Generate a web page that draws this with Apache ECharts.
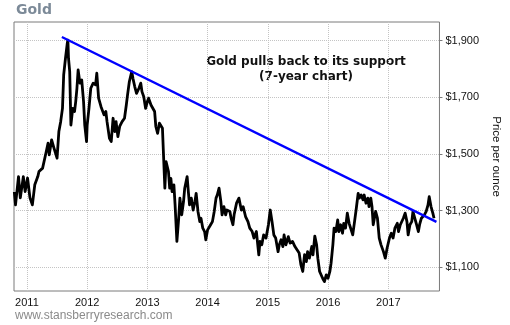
<!DOCTYPE html>
<html>
<head>
<meta charset="utf-8">
<script src="https://cdn.jsdelivr.net/npm/echarts@6/dist/echarts.min.js"></script>
<style>
  html, body { margin: 0; padding: 0; background: #ffffff; }
  #chart { width: 510px; height: 325px; }
</style>
</head>
<body>
<div id="chart"></div>
<script>
// Gold spot price, October 2010 - October 2017 (decimal year, US$ per ounce)
const years = [
  2010.79, 2010.81, 2010.86, 2010.89, 2010.94, 2010.97, 2011.01, 2011.05, 2011.09, 2011.13,
  2011.18, 2011.20, 2011.26, 2011.32, 2011.35, 2011.37, 2011.41, 2011.45, 2011.50, 2011.53,
  2011.56, 2011.59, 2011.61, 2011.64, 2011.67, 2011.68, 2011.69, 2011.71, 2011.73, 2011.76,
  2011.79, 2011.81, 2011.83, 2011.85, 2011.88, 2011.91, 2011.94, 2011.96, 2011.99, 2012.00,
  2012.03, 2012.06, 2012.10, 2012.14, 2012.16, 2012.19, 2012.23, 2012.26, 2012.28, 2012.31,
  2012.33, 2012.37, 2012.40, 2012.43, 2012.46, 2012.48, 2012.51, 2012.54, 2012.58, 2012.62,
  2012.65, 2012.67, 2012.70, 2012.74, 2012.76, 2012.79, 2012.82, 2012.86, 2012.89, 2012.91,
  2012.94, 2012.97, 2013.00, 2013.02, 2013.06, 2013.09, 2013.12, 2013.14, 2013.17, 2013.20,
  2013.22, 2013.25, 2013.27, 2013.29, 2013.31, 2013.35, 2013.37, 2013.39, 2013.41, 2013.44,
  2013.46, 2013.49, 2013.52, 2013.54, 2013.57, 2013.60, 2013.62, 2013.66, 2013.68, 2013.70,
  2013.73, 2013.76, 2013.79, 2013.81, 2013.84, 2013.87, 2013.89, 2013.92, 2013.95, 2013.97,
  2014.00, 2014.03, 2014.05, 2014.08, 2014.11, 2014.14, 2014.16, 2014.19, 2014.22, 2014.24,
  2014.27, 2014.30, 2014.32, 2014.37, 2014.39, 2014.42, 2014.44, 2014.48, 2014.52, 2014.56,
  2014.59, 2014.63, 2014.67, 2014.70, 2014.74, 2014.77, 2014.81, 2014.85, 2014.87, 2014.90,
  2014.93, 2014.97, 2015.01, 2015.04, 2015.07, 2015.10, 2015.13, 2015.17, 2015.19, 2015.22,
  2015.25, 2015.27, 2015.30, 2015.34, 2015.37, 2015.41, 2015.45, 2015.48, 2015.52, 2015.55,
  2015.58, 2015.61, 2015.64, 2015.66, 2015.69, 2015.73, 2015.75, 2015.78, 2015.81, 2015.83,
  2015.86, 2015.89, 2015.91, 2015.94, 2015.97, 2016.00, 2016.03, 2016.05, 2016.08, 2016.10,
  2016.13, 2016.16, 2016.18, 2016.21, 2016.24, 2016.26, 2016.29, 2016.32, 2016.35, 2016.38,
  2016.41, 2016.44, 2016.47, 2016.50, 2016.52, 2016.55, 2016.58, 2016.60, 2016.63, 2016.66,
  2016.68, 2016.71, 2016.73, 2016.75, 2016.79, 2016.82, 2016.85, 2016.88, 2016.92, 2016.95,
  2016.98, 2017.02, 2017.05, 2017.08, 2017.11, 2017.15, 2017.17, 2017.20, 2017.23, 2017.25,
  2017.28, 2017.31, 2017.33, 2017.36, 2017.39, 2017.41, 2017.44, 2017.47, 2017.50, 2017.52,
  2017.55, 2017.58, 2017.60, 2017.63, 2017.66, 2017.68, 2017.71, 2017.74, 2017.76
];
const prices = [
  1366, 1320, 1420, 1345, 1420, 1367, 1415, 1345, 1320, 1391,
  1420, 1438, 1450, 1508, 1538, 1497, 1550, 1520, 1485, 1579,
  1614, 1661, 1779, 1838, 1891, 1902, 1838, 1791, 1602, 1661,
  1650, 1685, 1732, 1797, 1750, 1761, 1685, 1602, 1544, 1602,
  1661, 1732, 1750, 1744, 1785, 1697, 1667, 1673, 1638, 1650,
  1614, 1555, 1544, 1626, 1579, 1614, 1561, 1597, 1614, 1626,
  1673, 1708, 1755, 1791, 1767, 1738, 1714, 1732, 1750, 1720,
  1702, 1661, 1685, 1697, 1673, 1679, 1650, 1597, 1573, 1609,
  1614, 1591, 1485, 1379, 1473, 1438, 1379, 1414, 1367, 1391,
  1320, 1191, 1273, 1344, 1285, 1332, 1379, 1420, 1367, 1320,
  1344, 1302, 1332, 1361, 1297, 1261, 1273, 1238, 1226, 1197,
  1232, 1238, 1250, 1261, 1297, 1344, 1355, 1379, 1332, 1285,
  1314, 1285, 1302, 1297, 1273, 1250, 1285, 1326, 1344, 1302,
  1314, 1279, 1261, 1238, 1226, 1203, 1226, 1144, 1191, 1179,
  1214, 1203, 1250, 1302, 1261, 1214, 1203, 1155, 1179, 1197,
  1173, 1214, 1179, 1208, 1185, 1191, 1173, 1179, 1150, 1108,
  1085, 1144, 1120, 1155, 1132, 1173, 1144, 1210, 1179, 1132,
  1085, 1079, 1061, 1049, 1073, 1061, 1085, 1114, 1179, 1238,
  1226, 1267, 1226, 1250, 1220, 1255, 1238, 1291, 1255, 1250,
  1214, 1261, 1309, 1361, 1344, 1355, 1338, 1355, 1326, 1344,
  1314, 1344, 1314, 1250, 1297, 1273, 1203, 1179, 1155, 1132,
  1167, 1203, 1220, 1203, 1238, 1255, 1226, 1250, 1250, 1273,
  1291, 1261, 1214, 1250, 1261, 1297, 1273, 1250, 1226, 1250,
  1273, 1267, 1285, 1297, 1320, 1349, 1314, 1291, 1273
];

// Resistance line drawn across the 2011 and 2012 highs
const trendYears = [2011.58, 2017.80];
const trendPrices = [1913, 1260];

// Axis tick positions and labels
const yearTicks = [2011, 2012, 2013, 2014, 2015, 2016, 2017];
const priceTicks = [1100, 1300, 1500, 1700, 1900];

const goldData = years.map((y, i) => [y, prices[i]]);
const trendData = trendYears.map((y, i) => [y, trendPrices[i]]);

const chart = echarts.init(document.getElementById('chart'), null, { renderer: 'canvas' });

const gridLine = { show: true, lineStyle: { color: '#c4c4c4', type: 'dotted', width: 1 } };

chart.setOption({
  animation: false,
  backgroundColor: '#ffffff',
  grid: {
    left: 14, right: 58, top: 22, bottom: 34,
    show: true, borderColor: '#7a7a7a', borderWidth: 1, backgroundColor: 'transparent'
  },
  xAxis: {
    type: 'value',
    min: 2010.785,
    max: 2017.85,
    axisLine: { show: false },
    axisTick: { show: false, customValues: yearTicks },
    splitLine: gridLine,
    axisLabel: {
      customValues: yearTicks,
      formatter: v => String(Math.round(v)),
      color: '#111111',
      fontFamily: 'Liberation Sans, Arial, sans-serif',
      fontSize: 11,
      margin: 6
    }
  },
  yAxis: {
    type: 'value',
    position: 'right',
    min: 1016,
    max: 1966,
    name: 'Price per ounce',
    nameLocation: 'middle',
    nameRotate: -90,
    nameGap: 50,
    nameTextStyle: { color: '#111111', fontFamily: 'Liberation Sans, Arial, sans-serif', fontSize: 11.5 },
    axisLine: { show: false },
    axisTick: { show: true, customValues: priceTicks, length: 3, lineStyle: { color: '#7a7a7a' } },
    splitLine: gridLine,
    axisLabel: {
      customValues: priceTicks,
      formatter: v => '$' + v.toLocaleString('en-US'),
      color: '#111111',
      fontFamily: 'Liberation Sans, Arial, sans-serif',
      fontSize: 11,
      margin: 6
    }
  },
  series: [
    {
      name: 'Gold',
      type: 'line',
      data: goldData,
      showSymbol: false,
      lineStyle: { color: '#000000', width: 2.8, join: 'round' },
      z: 2
    },
    {
      name: 'Trend',
      type: 'line',
      data: trendData,
      showSymbol: false,
      lineStyle: { color: '#0000ff', width: 2.4 },
      z: 3
    }
  ],
  graphic: [
    {
      type: 'text', left: 16, top: 3,
      style: { text: 'Gold', fill: '#7c8a98', font: 'bold 14px "DejaVu Sans", Verdana, sans-serif' }
    },
    {
      type: 'text', x: 306, y: 55,
      style: {
        text: 'Gold pulls back to its support\n(7-year chart)',
        fill: '#111111', align: 'center', lineHeight: 14.5,
        font: 'bold 12px "DejaVu Sans", Verdana, sans-serif'
      }
    },
    {
      type: 'text', left: 15, top: 310,
      style: { text: 'www.stansberryresearch.com', fill: '#8a8a8a', font: '12px "Liberation Sans", Arial, sans-serif' }
    }
  ]
});
</script>
</body>
</html>
